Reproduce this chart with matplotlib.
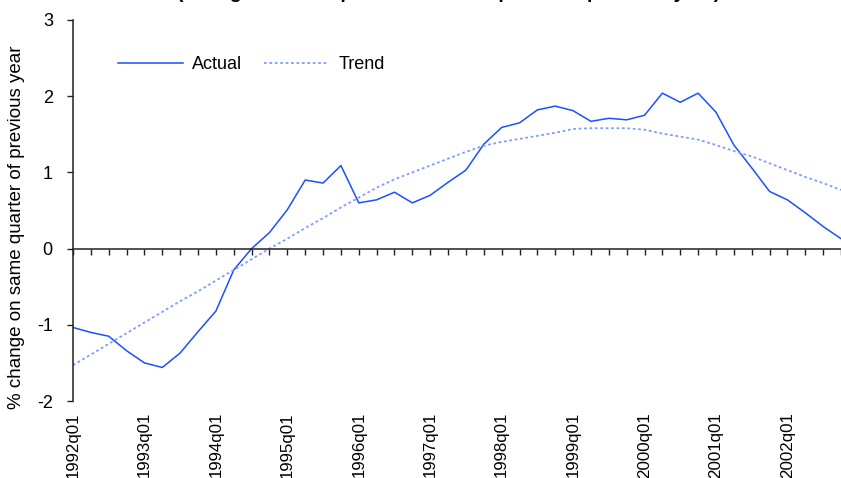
import matplotlib
matplotlib.use("Agg")
import matplotlib.pyplot as plt

plt.rcParams['font.family'] = ['Liberation Sans', 'DejaVu Sans']

title = "(Real growth compared with same period of previous year)"
ylabel = "% change on same quarter of previous year"

quarters = [f"{y}q0{q}" for y in range(1992, 2003) for q in range(1, 5)]

actual = [-1.035, -1.10, -1.15, -1.34, -1.50, -1.56, -1.37, -1.09,
          -0.82, -0.28, 0.00, 0.21, 0.51, 0.90, 0.86, 1.09,
          0.60, 0.64, 0.74, 0.60, 0.70, 0.87, 1.03, 1.37,
          1.59, 1.65, 1.82, 1.87, 1.81, 1.67, 1.71, 1.69,
          1.75, 2.04, 1.92, 2.04, 1.79, 1.36, 1.06, 0.75,
          0.64, 0.47, 0.29, 0.13]

trend = [-1.53, -1.39, -1.25, -1.11, -0.97, -0.83, -0.69, -0.56,
         -0.42, -0.28, -0.14, 0.00, 0.13, 0.27, 0.40, 0.54,
         0.67, 0.80, 0.91, 1.00, 1.09, 1.18, 1.27, 1.35,
         1.40, 1.44, 1.48, 1.52, 1.57, 1.58, 1.58, 1.58,
         1.56, 1.51, 1.47, 1.43, 1.36, 1.28, 1.21, 1.12,
         1.03, 0.94, 0.86, 0.77]

yticks = [-2, -1, 0, 1, 2, 3]

W, H = 841, 478
fig = plt.figure(figsize=(W / 100, H / 100), dpi=100)
ax = fig.add_axes([73 / W, 77 / H, 768 / W, 381 / H])

x = list(range(len(quarters)))
ax.plot(x, actual, color='#1a50ff', lw=1.1, label='Actual')
ax.plot(x, trend, color='#7f9cff', lw=1.3, linestyle=(0, (1.5, 1.5)), label='Trend')

ax.set_xlim(0, len(quarters) - 1)
ax.set_ylim(-2, 3)
ax.set_yticks(yticks)
ax.set_yticklabels([str(v) for v in yticks])

for s in ['top', 'right']:
    ax.spines[s].set_visible(False)
ax.spines['bottom'].set_position(('data', 0))
ax.spines['bottom'].set_color('#222222')
ax.spines['left'].set_color('#222222')
ax.spines['bottom'].set_linewidth(1.1)
ax.spines['left'].set_linewidth(1.1)

ax.set_xticks(x)
ax.tick_params(axis='x', direction='out', length=4.5, width=1.0, labelbottom=False, color='#222222')
ax.tick_params(axis='y', direction='out', length=4.5, width=1.0, pad=10, labelsize=13, color='#222222')

year_pos = [i for i, q in enumerate(quarters) if q.endswith('q01')]
sec = ax.secondary_xaxis(0.0)
sec.set_xticks(year_pos)
sec.set_xticklabels([quarters[i] for i in year_pos], rotation=90, fontsize=12.2)
sec.tick_params(length=0, pad=8)
sec.spines['bottom'].set_visible(False)

ax.set_ylabel(ylabel, fontsize=13.5)
ax.yaxis.set_label_coords(-0.062, 0.455)

ax.legend(loc='center left', bbox_to_anchor=(0.059, 0.882), frameon=False, ncol=2,
          fontsize=13, handlelength=3.6, handletextpad=0.5, columnspacing=1.2,
          borderpad=0, borderaxespad=0)

fig.text(0.533, 1 + 2 / H, title, ha='center', va='baseline', fontsize=14, fontweight='bold')

fig.savefig('out.png', dpi=100)
